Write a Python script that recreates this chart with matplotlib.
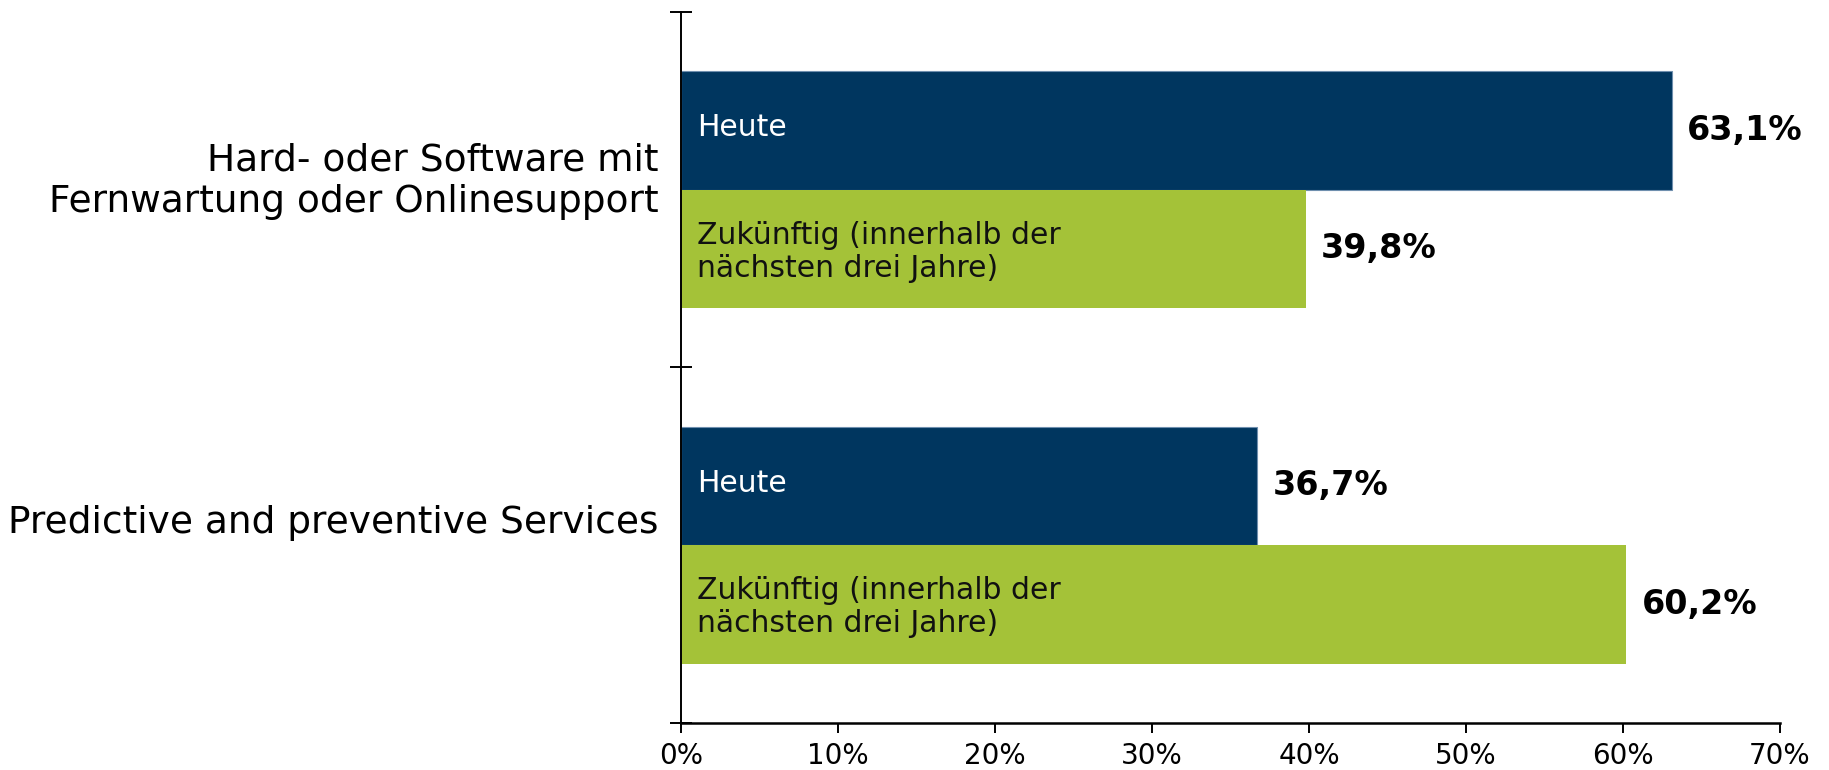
import numpy as np
import matplotlib
matplotlib.use("Agg")
import matplotlib.pyplot as plt

categories = ["Hard- oder Software mit\nFernwartung oder Onlinesupport",
              "Predictive and preventive Services"]
heute = [63.1, 36.7]
zukunft = [39.8, 60.2]
heute_label = "Heute"
zukunft_label = "Zukünftig (innerhalb der\nnächsten drei Jahre)"
xticks = [0, 10, 20, 30, 40, 50, 60, 70]

navy = "#00365F"
green = "#A4C238"

plt.rcParams['font.family'] = ['DejaVu Sans']

fig = plt.figure(figsize=(18.29, 7.7), dpi=100)
ax = fig.add_axes([0.3723, 0.061, 0.6009, 0.9237])

y = np.arange(len(categories))
h = 1 / 3
ax.barh(y - h / 2, heute, height=h, color=navy, edgecolor="#6f8fae", linewidth=0.8)
ax.barh(y + h / 2, zukunft, height=h, color=green, linewidth=0)

ax.set_xlim(0, 70)
ax.set_ylim(1.5, -0.5)

# value labels
for i in range(len(categories)):
    ax.annotate(f"{heute[i]:.1f}%".replace(".", ","), (heute[i], y[i] - h / 2),
                xytext=(11, 0), textcoords="offset points", va="center", ha="left",
                fontsize=24, fontweight="bold", color="black")
    ax.annotate(f"{zukunft[i]:.1f}%".replace(".", ","), (zukunft[i], y[i] + h / 2),
                xytext=(11, 0), textcoords="offset points", va="center", ha="left",
                fontsize=24, fontweight="bold", color="black")
    # labels inside bars
    ax.annotate(heute_label, (0, y[i] - h / 2), xytext=(11.5, 2), textcoords="offset points",
                va="center", ha="left", fontsize=21.5, color="white")
    ax.annotate(zukunft_label, (0, y[i] + h / 2), xytext=(11.5, -2), textcoords="offset points",
                va="center", ha="left", fontsize=21.5, color="#111111", linespacing=1.17)

# category labels
cat_y = [0.063, 0.966]
for i, lab in enumerate(categories):
    ax.annotate(lab, (0, cat_y[i]), xytext=(-16, 0), textcoords="offset points",
                ha="right", va="baseline", fontsize=27, color="black",
                annotation_clip=False, linespacing=1.19)

ax.set_yticks([-0.5, 0.5, 1.5])
ax.set_yticklabels([])
ax.tick_params(axis="y", direction="inout", length=16, width=1.4, color="black")

ax.set_xticks(xticks)
ax.set_xticklabels([f"{t}%" for t in xticks], fontsize=20)
ax.tick_params(axis="x", direction="out", length=7, width=1.4, pad=7, color="black")

for s in ["top", "right"]:
    ax.spines[s].set_visible(False)
ax.spines["left"].set_linewidth(1.4)
ax.spines["bottom"].set_linewidth(1.8)

fig.savefig("out.png", dpi=100)
